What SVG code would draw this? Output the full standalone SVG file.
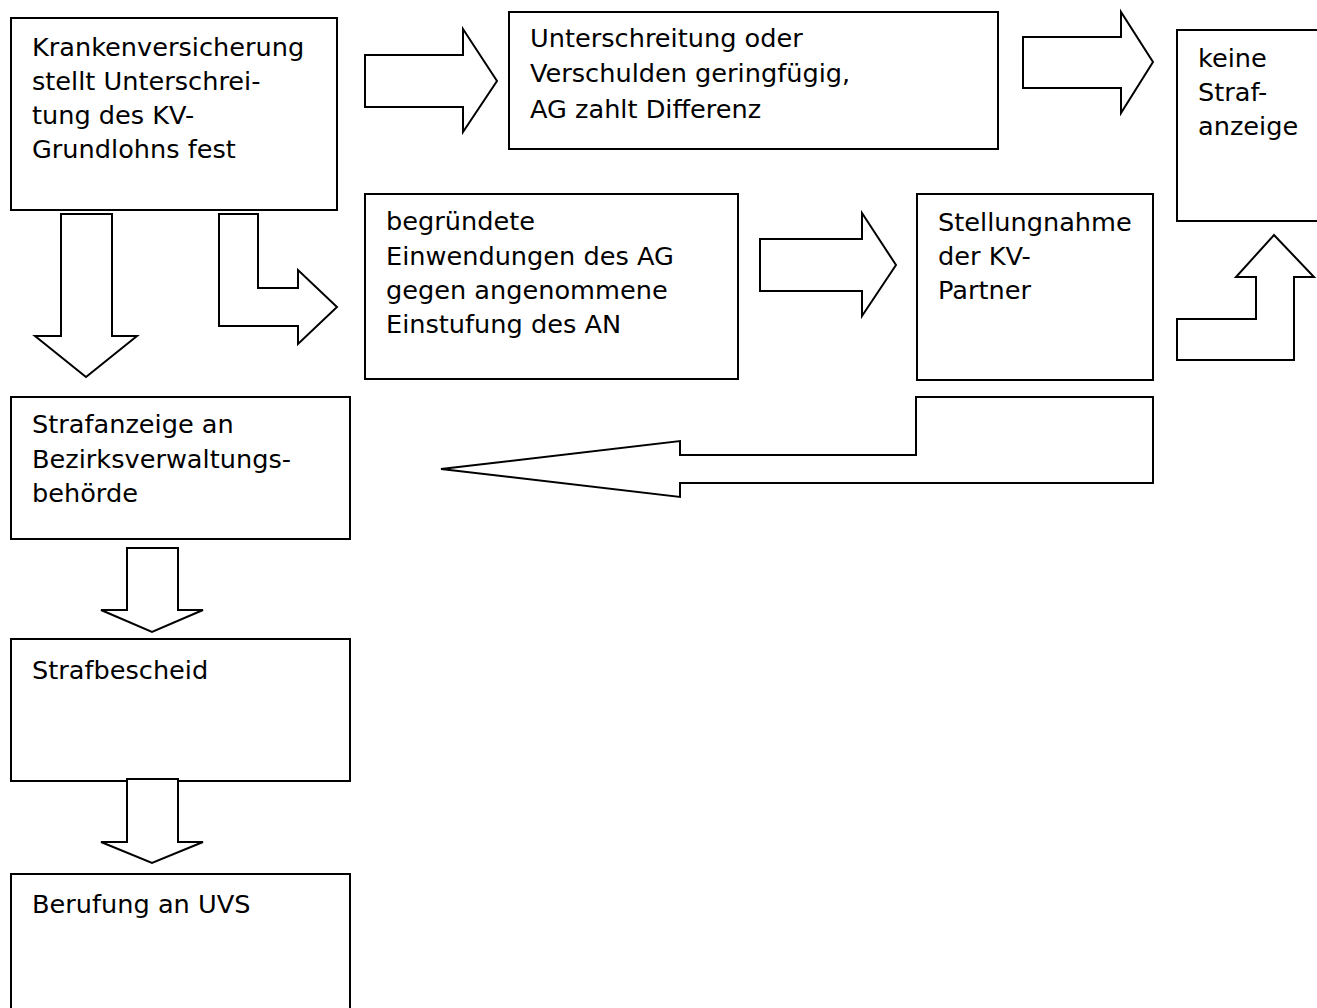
<svg xmlns="http://www.w3.org/2000/svg" width="1317" height="1008" viewBox="0 0 1317 1008">
<style>
.box{fill:#fff;stroke:#000;stroke-width:2}
.arr{fill:#fff;stroke:#000;stroke-width:2;stroke-linejoin:miter}
text{font-family:"DejaVu Sans",Verdana,sans-serif;font-size:25.6px;fill:#000}
</style>
<rect width="1317" height="1008" fill="#fff"/>
<g id="n1"><rect class="box" x="11" y="18" width="326" height="192"/>
<text x="32" y="56">Krankenversicherung</text><text x="32" y="90">stellt Unterschrei-</text><text x="32" y="124">tung des KV-</text><text x="32" y="158">Grundlohns fest</text></g>
<g id="n2"><rect class="box" x="509" y="12" width="489" height="137"/>
<text x="530" y="47">Unterschreitung oder</text><text x="530" y="82">Verschulden geringfügig,</text><text x="530" y="118">AG zahlt Differenz</text></g>
<g id="n3"><rect class="box" x="1177" y="30" width="170" height="191"/>
<text x="1198" y="67">keine</text><text x="1198" y="101">Straf-</text><text x="1198" y="135">anzeige</text></g>
<g id="n4"><rect class="box" x="365" y="194" width="373" height="185"/>
<text x="386" y="230">begründete</text><text x="386" y="265">Einwendungen des AG</text><text x="386" y="299">gegen angenommene</text><text x="386" y="333">Einstufung des AN</text></g>
<g id="n5"><rect class="box" x="917" y="194" width="236" height="186"/>
<text x="938" y="231">Stellungnahme</text><text x="938" y="265">der KV-</text><text x="938" y="299">Partner</text></g>
<g id="n6"><rect class="box" x="11" y="397" width="339" height="142"/>
<text x="32" y="433">Strafanzeige an</text><text x="32" y="468">Bezirksverwaltungs-</text><text x="32" y="502">behörde</text></g>
<g id="n7"><rect class="box" x="11" y="639" width="339" height="142"/>
<text x="32" y="679">Strafbescheid</text></g>
<g id="n8"><rect class="box" x="11" y="874" width="339" height="150"/>
<text x="32" y="913">Berufung an UVS</text></g>
<g id="connectors">
<path class="arr" d="M365,55 L463,55 L463,29 L497,81 L463,132 L463,107 L365,107 Z"/>
<path class="arr" d="M1023,37 L1121,37 L1121,12 L1153,62 L1121,113 L1121,88 L1023,88 Z"/>
<path class="arr" d="M61,214 L112,214 L112,336 L137,336 L86,377 L35,336 L61,336 Z"/>
<path class="arr" d="M219,214 L258,214 L258,288 L298,288 L298,270 L337,307 L298,344 L298,326 L219,326 Z"/>
<path class="arr" d="M760,239 L862,239 L862,213 L896,265 L862,316 L862,291 L760,291 Z"/>
<path class="arr" d="M1177,319 L1256,319 L1256,277 L1236,277 L1274,235 L1314,277 L1294,277 L1294,360 L1177,360 Z"/>
<path class="arr" d="M916,397 L1153,397 L1153,483 L680,483 L680,497 L441,469 L680,441 L680,455 L916,455 Z"/>
<path class="arr" d="M127,548 L178,548 L178,610 L203,610 L152,632 L101,610 L127,610 Z"/>
<path class="arr" d="M127,779 L178,779 L178,842 L203,842 L152,863 L101,842 L127,842 Z"/>
</g>
</svg>
